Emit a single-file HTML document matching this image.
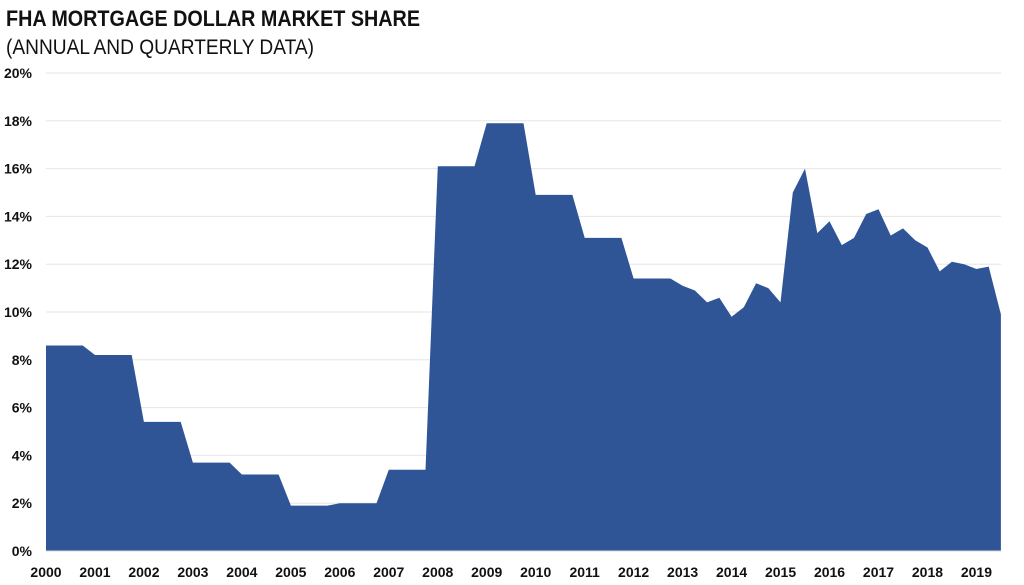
<!DOCTYPE html>
<html><head><meta charset="utf-8"><style>
body{margin:0;background:#fff;}
svg{display:block;font-family:"Liberation Sans",sans-serif;}
</style></head><body>
<svg id="c" width="1024" height="585" xmlns="http://www.w3.org/2000/svg">
<text x="6" y="26" font-size="22" font-weight="bold" fill="#111" textLength="414" lengthAdjust="spacingAndGlyphs">FHA MORTGAGE DOLLAR MARKET SHARE</text>
<text x="6" y="54" font-size="21" fill="#111" textLength="308" lengthAdjust="spacingAndGlyphs">(ANNUAL AND QUARTERLY DATA)</text>
<g id="grid"></g>
<path id="area" fill="#2F5597"/>
<line x1="46" y1="551" x2="1001" y2="551" stroke="#d9d9d9"/>
<g id="lab" font-size="14" font-weight="bold" fill="#111"></g>
</svg>
<script>
const X0=46,YR=48.97,Y0=551,PP=23.9;
const ns="http://www.w3.org/2000/svg";
let g=document.getElementById('grid'),lab=document.getElementById('lab');
for(let i=0;i<=10;i++){let y=Y0-i*2*PP;
 if(i>0){let l=document.createElementNS(ns,'line');l.setAttribute('x1',46);l.setAttribute('x2',1001);l.setAttribute('y1',y);l.setAttribute('y2',y);l.setAttribute('stroke','#e6e6e6');g.appendChild(l);}
 let t=document.createElementNS(ns,'text');t.setAttribute('x',32);t.setAttribute('y',y+5);t.setAttribute('text-anchor','end');t.textContent=(i*2)+'%';lab.appendChild(t);}
for(let yr=2000;yr<=2019;yr++){let t=document.createElementNS(ns,'text');t.setAttribute('x',X0+(yr-2000)*YR);t.setAttribute('y',577);t.setAttribute('text-anchor','middle');t.textContent=yr;lab.appendChild(t);}
const ann=[8.6,8.2,5.4,3.7,3.2,1.9,2.0,3.4,16.1,17.9,14.9,13.1];
let v=[];ann.forEach(a=>{for(let q=0;q<4;q++)v.push(a);});
v.push(11.4,11.4,11.4,11.4);
v.push(11.1,10.9,10.4,10.6,9.8,10.2,11.2,11.0,10.4,15.0,16.0,13.3,13.8,12.8,13.1,14.1,14.3,13.2,13.5,13.0,12.7,11.7,12.1,12.0,11.8,11.9,9.9);
let d='M'+X0+' '+Y0;
v.forEach((val,i)=>{let x=X0+i*YR/4;d+=' L'+x.toFixed(1)+' '+(Y0-val*PP).toFixed(1);});
d+=' L'+(X0+(v.length-1)*YR/4).toFixed(1)+' '+Y0+' Z';
document.getElementById('area').setAttribute('d',d);
</script>
</body></html>
